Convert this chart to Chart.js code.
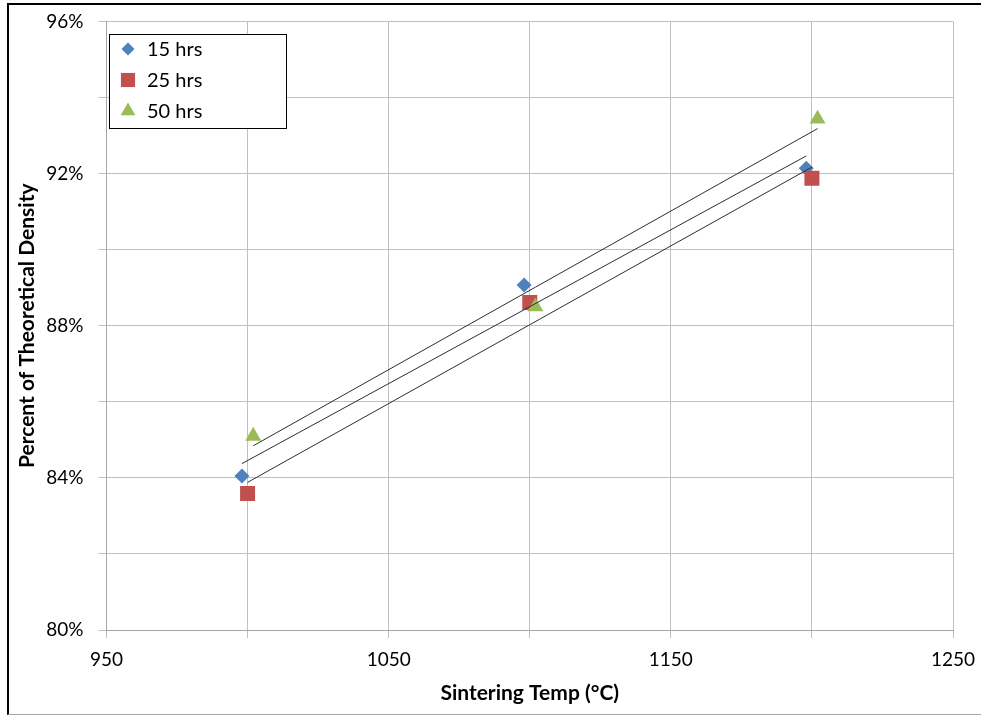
<!DOCTYPE html>
<html>
<head>
<meta charset="utf-8">
<script src="https://cdn.jsdelivr.net/npm/chart.js@4.4.1/dist/chart.umd.min.js"></script>
<style>
  html, body { margin: 0; padding: 0; background: #fff; }
  #wrap { position: relative; width: 981px; height: 715px; overflow: hidden; }
  #frame { position: absolute; left: 7px; top: 3px; width: 990px; height: 709px;
           border-left: 2px solid #000; border-top: 2px solid #000; border-bottom: 1px solid #a6a6a6;
           pointer-events: none; }
  canvas { display: block; }
</style>
</head>
<body>
<div id="wrap">
  <canvas id="c" width="981" height="715"></canvas>
  <div id="frame"></div>
</div>
<script>
// ---- data ----
const seriesNames = ['15 hrs', '25 hrs', '50 hrs'];
const temps15 = [998, 1098, 1198];
const dens15  = [84.05, 89.07, 92.14];
const temps25 = [1000, 1100, 1200];
const dens25  = [83.59, 88.61, 91.88];
const temps50 = [1002, 1102, 1202];
const dens50  = [85.10, 88.50, 93.44];
const xTickLabels = [950, 1050, 1150, 1250];
const yTickLabels = [80, 84, 88, 92, 96];

const FONT = 'Lato, "Open Sans", sans-serif';
const colors = ['#4F81BD', '#C0504D', '#9BBB59'];
const styles = ['rectRot', 'rect', 'triangle'];
const radii = [7.5, 10.6, 9.2];
const legendRadii = [6.5, 10, 8.5];

function pts(xs, ys) { return xs.map((x, i) => ({x: x, y: ys[i]})); }
function trend(xs, ys) {
  const n = xs.length;
  const mx = xs.reduce((a, b) => a + b, 0) / n;
  const my = ys.reduce((a, b) => a + b, 0) / n;
  let sxy = 0, sxx = 0;
  for (let i = 0; i < n; i++) { sxy += (xs[i] - mx) * (ys[i] - my); sxx += (xs[i] - mx) ** 2; }
  const b = sxy / sxx, a = my - b * mx;
  const x0 = Math.min(...xs), x1 = Math.max(...xs);
  return [{x: x0, y: a + b * x0}, {x: x1, y: a + b * x1}];
}

const allX = [temps15, temps25, temps50];
const allY = [dens15, dens25, dens50];

const datasets = [];
allX.forEach((xs, i) => {
  datasets.push({
    label: seriesNames[i],
    data: pts(xs, allY[i]),
    showLine: false,
    pointStyle: styles[i],
    pointRadius: radii[i],
    pointHoverRadius: radii[i],
    backgroundColor: colors[i],
    borderColor: colors[i],
    borderWidth: 0,
    order: 3 - i
  });
});
allX.forEach((xs, i) => {
  datasets.push({
    label: 'trend' + i,
    data: trend(xs, allY[i]),
    showLine: true,
    pointRadius: 0,
    borderColor: '#2e2e2e',
    borderWidth: 1,
    fill: false,
    order: 0,
    isTrend: true
  });
});

const legendPlugin = {
  id: 'boxLegend',
  afterDraw(chart) {
    const ctx = chart.ctx;
    ctx.save();
    ctx.fillStyle = '#fff';
    ctx.strokeStyle = '#000';
    ctx.lineWidth = 1;
    ctx.fillRect(109.5, 34.5, 177, 94);
    ctx.strokeRect(109.5, 34.5, 177, 94);
    const ds = chart.data.datasets.filter(d => !d.isTrend);
    ds.forEach((d, i) => {
      const y = 49 + i * 31;
      ctx.fillStyle = d.backgroundColor;
      ctx.strokeStyle = d.borderColor;
      Chart.helpers.drawPoint(ctx, {pointStyle: d.pointStyle, radius: legendRadii[i], borderWidth: 0, rotation: 0}, 128, y);
      ctx.fillStyle = '#000';
      ctx.font = '20px ' + FONT;
      ctx.textAlign = 'left';
      ctx.textBaseline = 'middle';
      ctx.fillText(d.label, 147, y + 1);
    });
    ctx.restore();
  }
};

const bgPlugin = {
  id: 'bg',
  beforeDraw(chart) {
    const ctx = chart.ctx;
    ctx.save(); ctx.fillStyle = '#fff'; ctx.fillRect(0, 0, chart.width, chart.height); ctx.restore();
  }
};

new Chart(document.getElementById('c'), {
  type: 'scatter',
  data: { datasets: datasets },
  plugins: [bgPlugin, legendPlugin],
  options: {
    responsive: false,
    animation: false,
    devicePixelRatio: 1,
    layout: { padding: { left: 10, top: 21.5, right: 28, bottom: 0 } },
    plugins: { legend: { display: false }, tooltip: { enabled: false } },
    scales: {
      x: {
        type: 'linear', min: 950, max: 1250,
        afterFit(s) { s.height = 85; s.paddingLeft = 0; s.paddingRight = 0; },
        ticks: {
          stepSize: 50, autoSkip: false, maxRotation: 0, padding: 10,
          color: '#000', font: { family: FONT, size: 19 },
          callback: v => xTickLabels.includes(v) ? String(v) : ''
        },
        grid: { color: '#bfbfbf', lineWidth: 1, tickLength: 8, tickColor: '#bfbfbf' },
        border: { color: '#a6a6a6' },
        title: { display: true, text: 'Sintering Temp (°C)', color: '#000',
                 font: { family: FONT, size: 21, weight: 'bold' }, padding: { top: 0, bottom: 9 } }
      },
      y: {
        type: 'linear', min: 80, max: 96,
        afterFit(s) { s.width = 96.5; s.paddingTop = 0; s.paddingBottom = 0; },
        ticks: {
          stepSize: 2, autoSkip: false, padding: 15,
          color: '#000', font: { family: FONT, size: 19 },
          callback: v => yTickLabels.includes(v) ? v + '%' : ''
        },
        grid: { color: '#bfbfbf', lineWidth: 1, tickLength: 8, tickColor: '#bfbfbf' },
        border: { color: '#a6a6a6' },
        title: { display: true, text: 'Percent of Theoretical Density', color: '#000',
                 font: { family: FONT, size: 21, weight: 'bold' }, padding: { top: 5, bottom: 0 } }
      }
    }
  }
});
</script>
</body>
</html>
